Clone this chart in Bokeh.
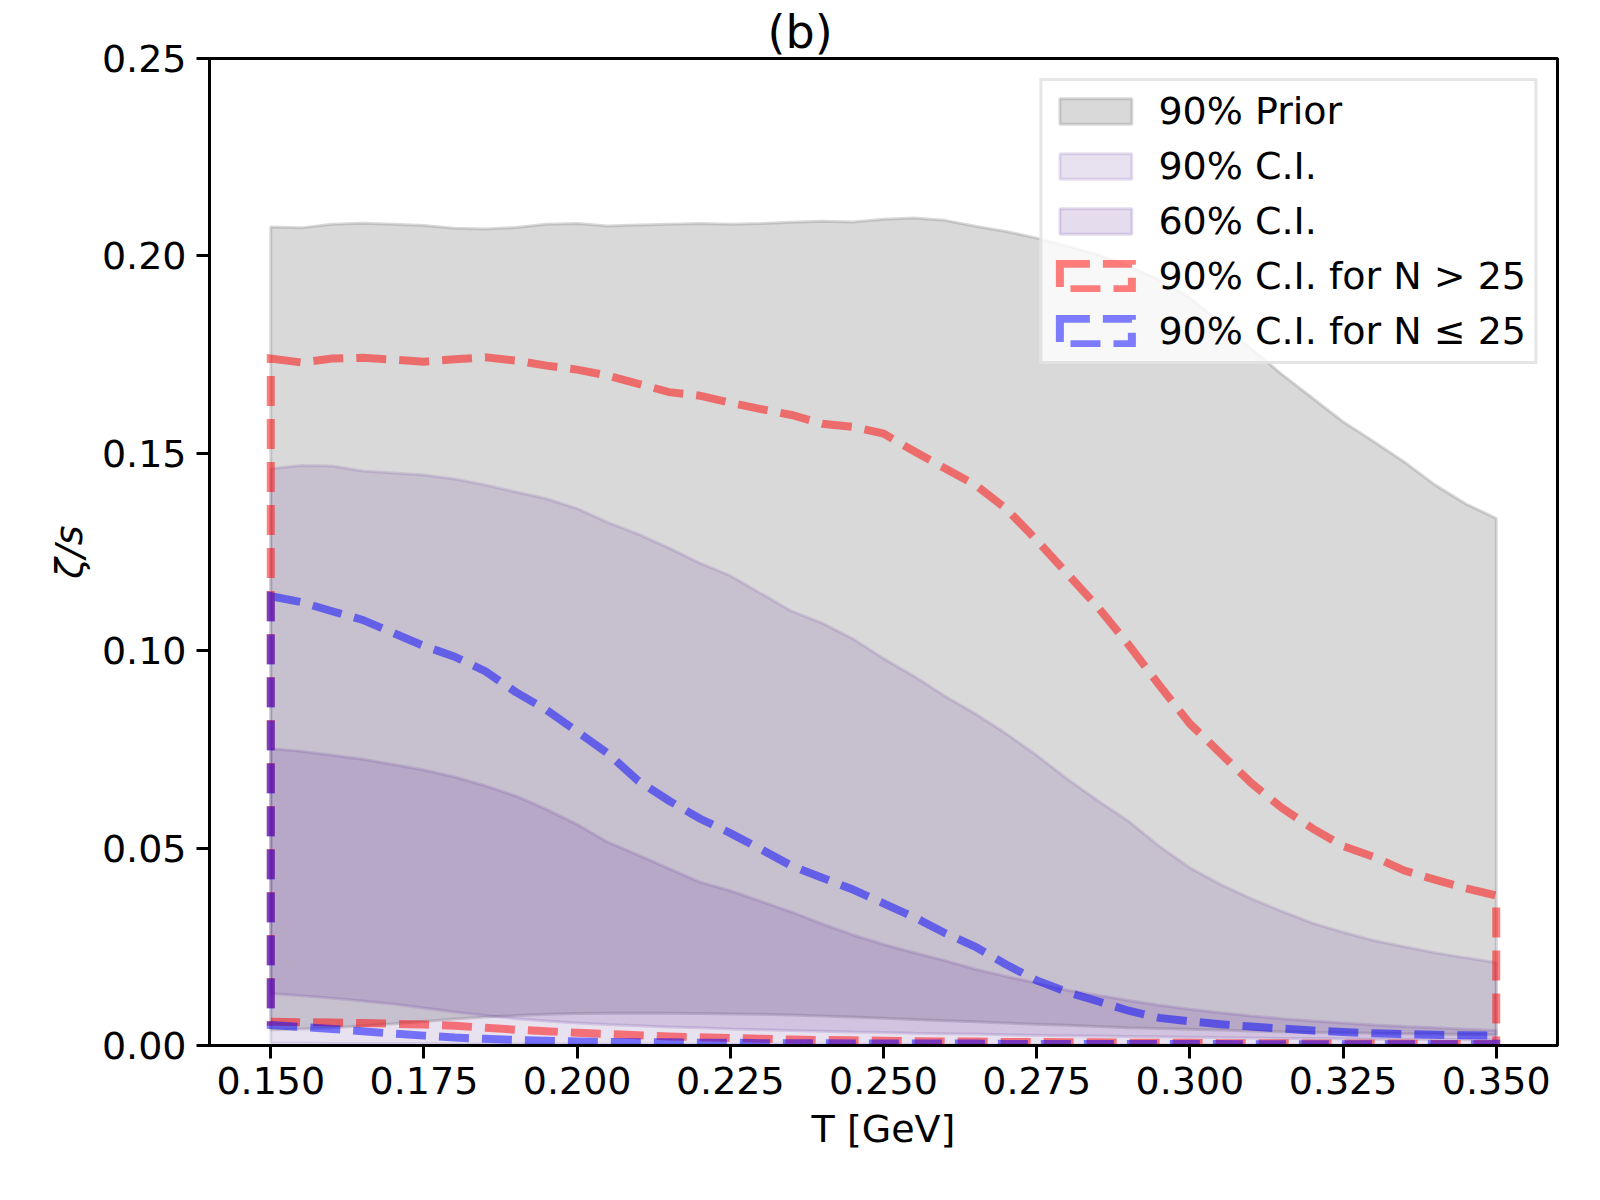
from bokeh.plotting import figure
from bokeh.models import Range1d, FixedTicker, NumeralTickFormatter, Legend, LegendItem
from bokeh.embed import file_html
from bokeh.resources import INLINE

# ---------------- data ----------------
T = [0.150, 0.155, 0.160, 0.165, 0.170, 0.175, 0.180, 0.185, 0.190, 0.195,
     0.200, 0.205, 0.210, 0.215, 0.220, 0.225, 0.230, 0.235, 0.240, 0.245,
     0.250, 0.255, 0.260, 0.265, 0.270, 0.275, 0.280, 0.285, 0.290, 0.295,
     0.300, 0.305, 0.310, 0.315, 0.320, 0.325, 0.330, 0.335, 0.340, 0.345,
     0.350]

prior_hi = [0.2073, 0.2071, 0.2080, 0.2083, 0.2080, 0.2077, 0.2070, 0.2068, 0.2072, 0.2080,
            0.2082, 0.2076, 0.2078, 0.2080, 0.2082, 0.2080, 0.2082, 0.2085, 0.2088, 0.2086,
            0.2093, 0.2096, 0.2090, 0.2075, 0.2062, 0.2045, 0.2025, 0.2003, 0.1975, 0.1940,
            0.1894, 0.1830, 0.1765, 0.1700, 0.1640, 0.1580, 0.1530, 0.1478, 0.1420, 0.1372,
            0.1335]
prior_lo = [0.0040, 0.0042, 0.0045, 0.0050, 0.0055, 0.0061, 0.0067, 0.0072, 0.0076, 0.0079,
            0.0081, 0.0082, 0.0082, 0.0082, 0.0081, 0.0080, 0.0079, 0.0077, 0.0075, 0.0072,
            0.0069, 0.0066, 0.0063, 0.0060, 0.0057, 0.0054, 0.0051, 0.0048, 0.0045, 0.0043,
            0.0041, 0.0039, 0.0037, 0.0035, 0.0033, 0.0032, 0.0031, 0.0030, 0.0029, 0.0028,
            0.0027]

ci90_hi = [0.1461, 0.1469, 0.1468, 0.1455, 0.1450, 0.1445, 0.1435, 0.1420, 0.1402, 0.1385,
           0.1360, 0.1325, 0.1295, 0.1260, 0.1222, 0.1190, 0.1145, 0.1100, 0.1070, 0.1030,
           0.0980, 0.0935, 0.0885, 0.0840, 0.0790, 0.0735, 0.0675, 0.0620, 0.0568, 0.0505,
           0.0450, 0.0408, 0.0372, 0.0340, 0.0310, 0.0287, 0.0266, 0.0250, 0.0235, 0.0222,
           0.0210]
ci90_lo = [0.0006, 0.0006, 0.0005, 0.0005, 0.0005, 0.0005, 0.0004, 0.0004, 0.0004, 0.0004,
           0.0004, 0.0003, 0.0003, 0.0003, 0.0003, 0.0003, 0.0003, 0.0003, 0.0003, 0.0003,
           0.0003, 0.0003, 0.0002, 0.0002, 0.0002, 0.0002, 0.0002, 0.0002, 0.0002, 0.0002,
           0.0002, 0.0002, 0.0002, 0.0002, 0.0002, 0.0002, 0.0002, 0.0002, 0.0002, 0.0002,
           0.0002]

ci60_hi = [0.0752, 0.0745, 0.0735, 0.0725, 0.0712, 0.0698, 0.0680, 0.0658, 0.0632, 0.0598,
           0.0560, 0.0515, 0.0482, 0.0448, 0.0414, 0.0392, 0.0365, 0.0338, 0.0308, 0.0280,
           0.0256, 0.0235, 0.0215, 0.0193, 0.0175, 0.0158, 0.0140, 0.0127, 0.0114, 0.0102,
           0.0092, 0.0083, 0.0075, 0.0068, 0.0062, 0.0057, 0.0052, 0.0048, 0.0045, 0.0041,
           0.0038]
ci60_lo = [0.0132, 0.0126, 0.0120, 0.0113, 0.0105, 0.0095, 0.0085, 0.0076, 0.0068, 0.0062,
           0.0057, 0.0053, 0.0050, 0.0047, 0.0045, 0.0042, 0.0040, 0.0038, 0.0036, 0.0034,
           0.0033, 0.0031, 0.0030, 0.0029, 0.0027, 0.0026, 0.0025, 0.0024, 0.0023, 0.0022,
           0.0021, 0.0020, 0.0019, 0.0018, 0.0018, 0.0017, 0.0016, 0.0016, 0.0015, 0.0015,
           0.0014]

red_hi = [0.1740, 0.1730, 0.1740, 0.1742, 0.1737, 0.1732, 0.1738, 0.1743, 0.1735, 0.1722,
          0.1712, 0.1697, 0.1676, 0.1655, 0.1646, 0.1628, 0.1612, 0.1597, 0.1575, 0.1567,
          0.1550, 0.1505, 0.1462, 0.1420, 0.1360, 0.1280, 0.1195, 0.1110, 0.1015, 0.0913,
          0.0815, 0.0740, 0.0665, 0.0602, 0.0550, 0.0505, 0.0478, 0.0443, 0.0420, 0.0398,
          0.0380]
red_lo = [0.0060, 0.0059, 0.0058, 0.0057, 0.0055, 0.0053, 0.0050, 0.0045, 0.0040, 0.0036,
          0.0032, 0.0029, 0.0026, 0.0023, 0.0021, 0.0019, 0.0017, 0.0015, 0.0014, 0.0013,
          0.0012, 0.0011, 0.0010, 0.0010, 0.0009, 0.0009, 0.0008, 0.0008, 0.0007, 0.0007,
          0.0007, 0.0006, 0.0006, 0.0006, 0.0005, 0.0005, 0.0005, 0.0005, 0.0004, 0.0004,
          0.0004]

blue_hi = [0.1138, 0.1123, 0.1100, 0.1078, 0.1045, 0.1012, 0.0985, 0.0948, 0.0895, 0.0850,
           0.0795, 0.0740, 0.0670, 0.0620, 0.0575, 0.0538, 0.0497, 0.0455, 0.0425, 0.0395,
           0.0360, 0.0325, 0.0285, 0.0250, 0.0205, 0.0165, 0.0135, 0.0112, 0.0088, 0.0070,
           0.0061, 0.0054, 0.0048, 0.0043, 0.0038, 0.0034, 0.0031, 0.0029, 0.0027, 0.0026,
           0.0025]
blue_lo = [0.0052, 0.0047, 0.0042, 0.0036, 0.0030, 0.0025, 0.0020, 0.0017, 0.0014, 0.0012,
           0.0010, 0.0009, 0.0008, 0.0008, 0.0007, 0.0007, 0.0006, 0.0006, 0.0006, 0.0005,
           0.0005, 0.0005, 0.0005, 0.0005, 0.0004, 0.0004, 0.0004, 0.0004, 0.0004, 0.0004,
           0.0004, 0.0004, 0.0003, 0.0003, 0.0003, 0.0003, 0.0003, 0.0003, 0.0003, 0.0003,
           0.0003]

x_ticks = [0.150, 0.175, 0.200, 0.225, 0.250, 0.275, 0.300, 0.325, 0.350]
y_ticks = [0.00, 0.05, 0.10, 0.15, 0.20, 0.25]

labels = ["90% Prior", "90% C.I.", "60% C.I.",
          "90% C.I. for N > 25", "90% C.I. for N \u2264 25"]
title_text = "(b)"
x_label = "T [GeV]"
y_label = "\u03b6/s"

FONT = "DejaVu Sans"
FS = "38px"

# ---------------- figure ----------------
p = figure(frame_width=1348, frame_height=987,
           min_border_left=209, min_border_right=27,
           min_border_top=58, min_border_bottom=139,
           x_range=Range1d(0.14, 0.36), y_range=Range1d(0.0, 0.25),
           output_backend="svg", toolbar_location=None,
           background_fill_color="white", border_fill_color="white")
p.grid.visible = False
p.outline_line_color = "black"
p.outline_line_width = 3

p.title.text = title_text
p.title.align = "left"
p.title.offset = 558
p.title.standoff = 0
p.title.text_font = FONT
p.title.text_font_size = "46px"
p.title.text_font_style = "normal"
p.title.text_color = "black"


def band(lo, hi):
    return T + T[::-1], hi + lo[::-1]


xs, ys = band(prior_lo, prior_hi)
r_prior = p.patch(xs, ys, fill_color="gray", fill_alpha=0.3,
                  line_color="gray", line_alpha=0.3, line_width=3)
xs, ys = band(ci90_lo, ci90_hi)
r_90 = p.patch(xs, ys, fill_color="rebeccapurple", fill_alpha=0.15,
               line_color="rebeccapurple", line_alpha=0.15, line_width=3)
xs, ys = band(ci60_lo, ci60_hi)
r_60 = p.patch(xs, ys, fill_color="rebeccapurple", fill_alpha=0.17,
               line_color="rebeccapurple", line_alpha=0.17, line_width=3)
xs, ys = band(red_lo, red_hi)
r_red = p.patch(xs, ys, fill_alpha=0.0, line_color="red", line_alpha=0.5,
                line_width=8, line_dash="30 13", line_join="miter")
xs, ys = band(blue_lo, blue_hi)
r_blue = p.patch(xs, ys, fill_alpha=0.0, line_color="blue", line_alpha=0.5,
                 line_width=8, line_dash="30 13", line_join="miter")

# ---------------- axes ----------------
for ax in (p.xaxis[0], p.yaxis[0]):
    ax.axis_line_width = 3
    ax.axis_line_color = "black"
    ax.major_tick_line_width = 3
    ax.major_tick_line_color = "black"
    ax.major_tick_out = 13
    ax.major_tick_in = 0
    ax.minor_tick_line_color = None
    ax.major_label_text_font = FONT
    ax.major_label_text_font_size = FS
    ax.major_label_text_color = "black"
    ax.axis_label_text_font = FONT
    ax.axis_label_text_font_size = FS
    ax.axis_label_text_color = "black"

p.xaxis.ticker = FixedTicker(ticks=x_ticks)
p.yaxis.ticker = FixedTicker(ticks=y_ticks)
p.xaxis.formatter = NumeralTickFormatter(format="0.000")
p.yaxis.formatter = NumeralTickFormatter(format="0.00")
p.xaxis.axis_label = x_label
p.yaxis.axis_label = y_label
p.xaxis.axis_label_text_font_style = "normal"
p.yaxis.axis_label_text_font_style = "italic"
p.xaxis.major_label_standoff = 8
p.yaxis.major_label_standoff = 10
p.xaxis.axis_label_standoff = 10
p.yaxis.axis_label_standoff = 8

# ---------------- legend ----------------
legend = Legend(items=[LegendItem(label=labels[0], renderers=[r_prior]),
                       LegendItem(label=labels[1], renderers=[r_90]),
                       LegendItem(label=labels[2], renderers=[r_60]),
                       LegendItem(label=labels[3], renderers=[r_red]),
                       LegendItem(label=labels[4], renderers=[r_blue])],
                location="top_right")
legend.margin = 20
legend.padding = 8
legend.spacing = 11
legend.glyph_width = 90
legend.glyph_height = 32
legend.label_standoff = 18
legend.label_height = 44
legend.label_text_font = FONT
legend.label_text_font_size = FS
legend.label_text_color = "black"
legend.border_line_color = "#cccccc"
legend.border_line_width = 3
legend.background_fill_color = "white"
legend.background_fill_alpha = 0.8
p.add_layout(legend)

open("out.html", "w").write(file_html(p, INLINE))
